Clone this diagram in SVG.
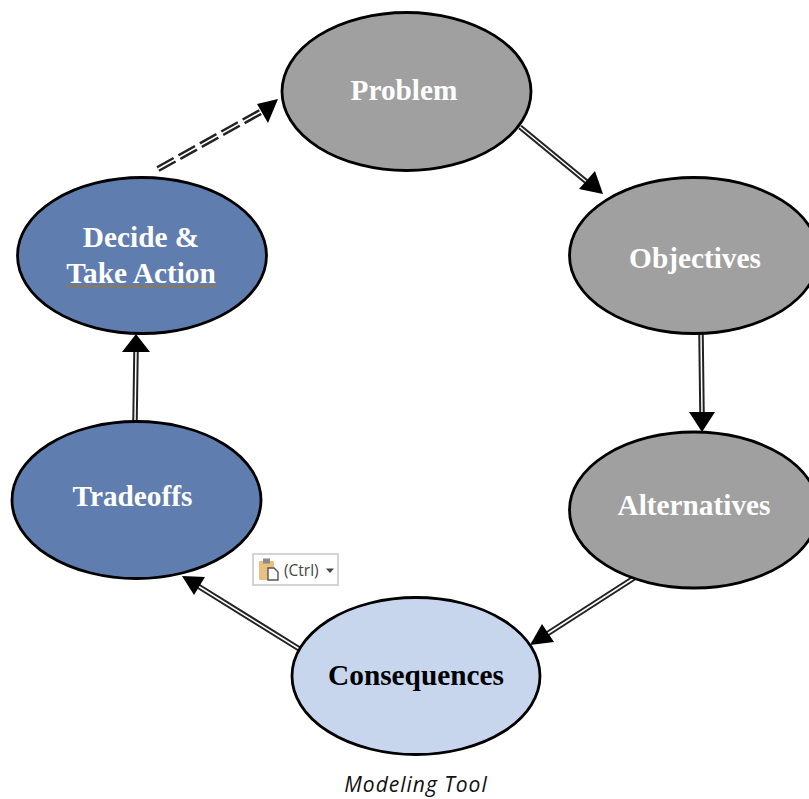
<svg xmlns="http://www.w3.org/2000/svg" width="809" height="799" viewBox="0 0 809 799">
<style>
.n{stroke:#000;stroke-width:2.8}
.g{fill:#a0a0a0}.b{fill:#5f7dae}.l{fill:#c7d5ed}
.t{font-family:"Liberation Serif",serif;font-weight:bold;font-size:29.300px;text-anchor:middle;fill:#fff}
.o{stroke:#222;stroke-width:5.500;fill:none}
.i{stroke:#fff;stroke-width:1.500;fill:none}
.d{stroke-dasharray:19 5.500;stroke-width:6.500}
</style>
<rect width="809" height="799" fill="#fff"/>
<g id="connectors">
<path class="o" d="M520 127L588 183"/><path class="i" d="M520 127L588 183"/>
<polygon points="603,194 579,189 595,171"/>
<path class="o" d="M701 334L702 414"/><path class="i" d="M701 334L702 414"/>
<polygon points="702,432 689,412 715,412"/>
<path class="o" d="M634 578L547 634"/><path class="i" d="M634 578L547 634"/>
<polygon points="530,645 542,624 554,642"/>
<path class="o" d="M301 650L198 586"/><path class="i" d="M301 650L198 586"/>
<polygon points="182,576 205,577 194,595"/>
<path class="o" d="M135 421L136 352"/><path class="i" d="M135 421L136 352"/>
<polygon points="136,334 150,352 122,352"/>
<path class="o d" d="M158 169L264 110"/><path class="i" d="M158 169L264 110"/>
<polygon points="278,99 268,123 257,104"/>
</g>
<g id="problem"><ellipse class="n g" cx="406.500" cy="91.500" rx="124.500" ry="79"/><text class="t" x="404" y="100">Problem</text></g>
<g id="objectives"><ellipse class="n g" cx="694" cy="255.500" rx="124.500" ry="78"/><text class="t" x="695" y="268">Objectives</text></g>
<g id="alternatives"><ellipse class="n g" cx="694" cy="510" rx="124.500" ry="78"/><text class="t" x="694" y="515">Alternatives</text></g>
<g id="consequences"><ellipse class="n l" cx="416" cy="676" rx="124" ry="78.500"/><text class="t" x="416" y="685" style="fill:#000">Consequences</text></g>
<g id="tradeoffs"><ellipse class="n b" cx="136.500" cy="500" rx="124.500" ry="78.500"/><text class="t" x="132.500" y="506">Tradeoffs</text></g>
<g id="decide"><ellipse class="n b" cx="142" cy="255.500" rx="124.500" ry="78"/><text class="t" x="141" y="247">Decide &amp;</text><text class="t" x="141" y="283">Take Action</text>
<path d="M67 286.500H216" stroke="#a5762c" stroke-width="2.400" stroke-dasharray="2 1.500" fill="none"/></g>
<g id="paste-options">
<rect x="253" y="554" width="85" height="31" fill="#fff" stroke="#c6c6c6" stroke-width="1.500"/>
<rect x="259" y="561" width="15" height="19" rx="1" fill="#e9c17f"/>
<rect x="263" y="558.500" width="7" height="5" fill="#8a8a8a"/>
<path d="M268 568h6l4 4v8h-10z" fill="#fff" stroke="#555" stroke-width="1.400"/>
<text x="284" y="575.500" font-family="'Open Sans',sans-serif" font-size="15.500" fill="#444">(Ctrl)</text>
<polygon points="326,568.500 334,568.500 330,573" fill="#444"/>
</g>
<text x="416" y="792" font-family="'Open Sans',sans-serif" font-style="italic" font-size="21" letter-spacing="1" text-anchor="middle" fill="#111">Modeling Tool</text>
</svg>
